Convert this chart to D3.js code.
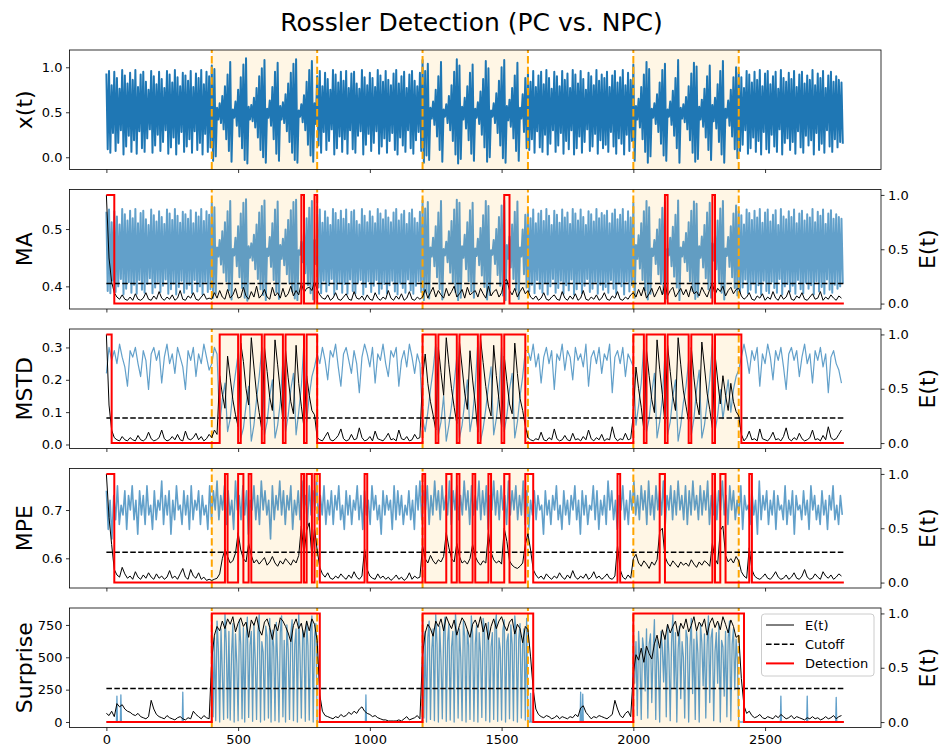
<!DOCTYPE html>
<html><head><meta charset="utf-8">
<script src="https://cdn.jsdelivr.net/npm/d3@7"></script>
<style>body{margin:0;background:#fff} svg text{font-family:"DejaVu Sans",sans-serif;fill:#000}</style>
</head><body><svg id="c" width="943" height="751"></svg>
<script>
// ---------------- DATA ----------------
const tTicks = [0, 500, 1000, 1500, 2000, 2500];
const regions = [[400, 800], [1200, 1600], [2000, 2400]];
const cycleLen = 10;          // x(t) / MA: one peak + one trough per cycle
const eStep = 10;             // E(t) and MSTD sampled every 10 steps
const mpeStep = 7;            // MPE sampled every 7 steps
const surpStep = 5;           // Surprise in anomaly windows every 5 steps
const cutoffs = {ma: 0.185, mstd: 0.23, mpe: 0.28, surprise: 0.31};

const xPeaks = [
.93,.96,.80,.95,.88,.76,.97,.91,.82,.94,.86,.97,.78,.92,.95,.84,.75,.96,.90,.81,.95,.87,.77,.96,.92,.83,.97,.89,.79,.94,.91,.85,.96,.78,.93,.88,.97,.81,.95,.90,
1.02,.98,.55,.60,.68,.79,.92,1.06,.53,.62,.75,.89,1.03,1.10,.56,.58,.66,.77,.90,.99,1.08,.54,.63,.78,.95,1.05,.57,.61,.70,.82,.94,1.04,1.09,.52,.59,.69,.84,.97,1.07,.60,
.90,.96,.79,.94,.87,.75,.97,.92,.83,.95,.85,.96,.77,.93,.95,.82,.76,.97,.89,.80,.94,.88,.78,.97,.91,.84,.96,.86,.80,.93,.97,.82,.90,.95,.77,.92,.96,.85,.79,.94,
1.08,.96,1.04,.55,.62,.75,.90,1.06,.53,.59,.68,.80,.95,1.09,1.02,.56,.66,.79,.94,1.03,.54,.61,.73,.87,1.07,.99,.52,.60,.71,.85,1.00,1.08,.57,.64,.77,.91,1.05,.55,.70,.88,
.93,.84,.96,.78,.91,.95,.81,.97,.88,.76,.95,.90,.79,.96,.86,.93,.77,.97,.92,.82,.96,.87,.75,.94,.90,.80,.97,.85,.92,.88,.95,.78,.91,.96,.83,.89,.97,.80,.94,.86,
1.03,.57,.65,.78,.92,1.06,.98,.54,.60,.70,.83,.97,1.04,.53,.62,.74,.88,1.08,.55,.59,.67,.79,.93,1.05,1.01,.56,.64,.76,.90,1.02,.58,.66,.81,.96,1.07,.54,.63,.75,.89,1.00,
.94,.89,.77,.96,.92,.83,.95,.86,.97,.79,.93,.96,.81,.90,.95,.76,.97,.88,.84,.94,.87,.96,.78,.92,.95,.82,.91,.86,.97,.80,.93,.88,.96,.77,.91,.95,.84,.90,.86,.83];
const xTroughs = [
.09,.05,.27,.07,.16,.30,.03,.12,.24,.06,.19,.04,.29,.10,.06,.21,.31,.05,.13,.25,.07,.17,.30,.04,.11,.22,.03,.15,.28,.06,.12,.20,.05,.29,.08,.16,.03,.26,.06,.11,
-.04,.01,.42,.38,.31,.20,.07,-.05,.44,.35,.23,.10,-.03,-.07,.42,.40,.33,.22,.08,.00,-.06,.44,.35,.20,.04,-.04,.42,.38,.29,.17,.05,-.03,-.06,.45,.39,.30,.14,.02,-.05,.37,
.13,.05,.28,.08,.18,.31,.03,.10,.23,.06,.20,.04,.30,.09,.05,.24,.29,.03,.14,.26,.07,.16,.29,.04,.12,.21,.05,.18,.27,.08,.03,.22,.13,.06,.30,.10,.04,.19,.28,.07,
-.06,.02,-.03,.43,.36,.23,.08,-.05,.45,.38,.30,.18,.03,-.07,-.02,.42,.32,.19,.04,-.04,.44,.37,.25,.11,-.05,.00,.45,.38,.27,.13,-.01,-.06,.41,.34,.21,.07,-.04,.43,.28,.10,
.08,.20,.05,.29,.11,.06,.25,.03,.15,.30,.06,.13,.27,.04,.18,.09,.30,.03,.10,.23,.05,.17,.31,.07,.12,.26,.04,.19,.10,.14,.06,.28,.12,.04,.21,.15,.03,.25,.07,.18,
-.04,.42,.33,.20,.06,-.06,.01,.44,.37,.28,.15,.02,-.04,.45,.36,.24,.10,-.06,.43,.39,.31,.19,.05,-.05,-.02,.42,.34,.22,.08,-.03,.40,.32,.17,.03,-.06,.44,.35,.23,.09,-.01,
.07,.14,.30,.04,.10,.22,.06,.18,.03,.28,.09,.05,.25,.12,.06,.31,.03,.16,.21,.08,.17,.04,.29,.11,.05,.24,.13,.19,.03,.27,.08,.15,.05,.30,.12,.06,.20,.11,.17,.15];

const maPeaks = [
.530,.534,.512,.531,.522,.508,.535,.526,.515,.532,.519,.535,.510,.528,.532,.517,.507,.534,.524,.513,.531,.521,.509,.534,.527,.516,.535,.523,.511,.530,.526,.518,.533,.510,.529,.522,.535,.514,.531,.525,
.546,.538,.468,.481,.496,.512,.531,.549,.465,.485,.505,.527,.546,.552,.470,.475,.490,.508,.529,.540,.550,.466,.486,.510,.534,.548,.472,.483,.499,.516,.533,.547,.551,.463,.478,.497,.519,.537,.549,.481,
.526,.534,.511,.531,.520,.507,.535,.528,.516,.532,.518,.534,.509,.530,.533,.514,.508,.535,.523,.512,.531,.522,.510,.535,.527,.517,.533,.520,.512,.529,.535,.515,.526,.532,.509,.528,.534,.519,.511,.530,
.550,.536,.547,.468,.485,.505,.529,.549,.465,.478,.496,.514,.534,.551,.546,.470,.490,.512,.533,.546,.466,.483,.502,.524,.549,.540,.463,.481,.500,.521,.541,.550,.472,.487,.508,.530,.548,.468,.499,.525,
.530,.519,.534,.510,.527,.532,.514,.535,.523,.507,.532,.525,.511,.534,.520,.529,.509,.535,.527,.515,.534,.521,.507,.531,.526,.513,.535,.519,.528,.524,.532,.510,.527,.534,.517,.525,.535,.513,.531,.520,
.546,.472,.489,.510,.531,.549,.538,.466,.481,.499,.517,.537,.547,.465,.485,.504,.525,.550,.468,.478,.493,.512,.532,.548,.544,.470,.487,.507,.529,.546,.475,.490,.515,.536,.549,.466,.486,.505,.527,.541,
.531,.524,.508,.534,.528,.516,.532,.520,.535,.511,.529,.534,.513,.525,.533,.507,.535,.522,.517,.531,.521,.534,.510,.527,.532,.515,.526,.520,.535,.512,.530,.523,.534,.509,.527,.533,.518,.526,.521,.518];
const maTroughs = [
.392,.388,.410,.390,.400,.413,.386,.396,.407,.389,.403,.387,.411,.394,.389,.404,.414,.388,.398,.408,.390,.401,.412,.387,.395,.405,.386,.399,.410,.389,.396,.403,.388,.411,.391,.400,.386,.408,.390,.395,
.380,.387,.452,.438,.424,.409,.393,.377,.454,.435,.416,.397,.380,.375,.450,.445,.430,.413,.395,.385,.376,.453,.434,.411,.390,.378,.448,.437,.421,.405,.391,.379,.376,.455,.442,.423,.402,.388,.377,.439,
.398,.388,.410,.391,.402,.413,.386,.395,.406,.389,.404,.387,.412,.392,.388,.407,.411,.386,.399,.409,.390,.401,.411,.387,.396,.404,.388,.402,.410,.391,.386,.405,.397,.389,.412,.393,.387,.401,.409,.390,
.376,.389,.379,.452,.435,.416,.395,.377,.454,.442,.424,.407,.390,.376,.380,.450,.430,.409,.391,.380,.453,.437,.419,.399,.377,.385,.455,.439,.420,.401,.384,.376,.448,.433,.413,.394,.378,.452,.421,.398,
.391,.403,.388,.411,.396,.389,.406,.386,.400,.413,.389,.397,.410,.387,.402,.393,.412,.386,.395,.407,.388,.401,.413,.390,.396,.408,.387,.403,.394,.399,.389,.411,.396,.387,.405,.400,.386,.409,.391,.402,
.380,.448,.431,.411,.393,.377,.387,.453,.439,.421,.404,.388,.379,.454,.435,.417,.398,.376,.452,.442,.427,.409,.392,.378,.382,.450,.433,.414,.395,.380,.445,.430,.406,.389,.377,.453,.434,.416,.397,.384,
.390,.398,.412,.388,.394,.405,.389,.402,.386,.410,.392,.388,.408,.397,.389,.413,.386,.400,.404,.391,.401,.387,.411,.395,.388,.406,.396,.402,.386,.409,.391,.399,.387,.412,.394,.389,.403,.396,.400,.405];

const mstdValues = [.22,.30,.26,.29,.25,.31,.27,.24,.18,.29,.27,.30,.25,.21,.29,.26,.17,.28,.30,.26,.29,.19,.27,.31,.25,.28,.22,.30,.27,.24,.17,.29,.26,.30,.21,.28,.25,.31,.27,.23,
.25,.30,.28,.06,.14,.19,.04,.08,.16,.22,.28,.02,.05,.12,.18,.01,.06,.14,.21,.30,.03,.07,.15,.20,.02,.06,.13,.26,.04,.09,.17,.22,.03,.10,.18,.32,.07,.15,.21,.24,
.28,.25,.30,.26,.20,.29,.27,.31,.24,.18,.28,.30,.26,.22,.29,.25,.16,.27,.31,.28,.24,.30,.19,.28,.26,.31,.25,.21,.29,.27,.30,.18,.26,.29,.24,.31,.27,.22,.28,.25,
.08,.04,.10,.17,.23,.31,.03,.07,.15,.01,.06,.12,.19,.27,.02,.06,.13,.20,.04,.09,.18,.32,.01,.05,.11,.18,.24,.03,.08,.16,.30,.04,.09,.17,.22,.02,.07,.15,.21,.29,
.29,.26,.31,.24,.28,.19,.27,.30,.25,.29,.17,.28,.26,.31,.23,.29,.27,.20,.30,.26,.28,.24,.31,.18,.27,.29,.25,.30,.22,.28,.26,.31,.16,.27,.29,.25,.30,.21,.28,.26,
.24,.06,.12,.19,.31,.04,.08,.16,.22,.02,.07,.14,.28,.03,.07,.15,.20,.01,.06,.13,.18,.26,.03,.08,.17,.23,.02,.06,.13,.20,.31,.04,.09,.17,.08,.14,.20,.10,.17,.21,
.23,.27,.31,.27,.22,.29,.26,.30,.18,.28,.25,.31,.27,.20,.29,.26,.30,.24,.17,.28,.30,.26,.29,.21,.27,.31,.25,.28,.19,.29,.26,.30,.24,.28,.16,.27,.29,.25,.23,.19];

const mpeValues = [.74,.66,.72,.64,.73,.68,.75,.67,.71,.69,.74,.66,.73,.70,.75,.68,.72,.65,.74,.69,
.73,.67,.75,.69,.71,.66,.74,.68,.72,.70,.76,.67,.73,.69,.74,.65,.72,.68,.75,.70,
.71,.67,.74,.69,.73,.66,.75,.68,.72,.70,.74,.67,.73,.69,.71,.66,.75,.68,.74,.70,
.76,.68,.73,.70,.75,.67,.74,.69,.72,.66,.76,.70,.73,.68,.75,.69,.74,.65,.72,.70,
.75,.68,.73,.67,.76,.70,.74,.69,.72,.64,.75,.68,.73,.70,.76,.69,.74,.67,.73,.70,
.75,.66,.72,.69,.74,.68,.76,.70,.73,.67,.75,.69,.74,.70,.76,.68,.73,.69,.75,.67,
.72,.69,.74,.67,.73,.70,.75,.68,.71,.66,.74,.69,.73,.67,.72,.70,.75,.68,.73,.66,
.74,.69,.72,.67,.75,.70,.73,.68,.71,.65,.74,.69,.73,.70,.72,.66,.75,.68,.74,.69,
.73,.67,.71,.69,.74,.68,.72,.66,.75,.70,.76,.68,.74,.70,.75,.67,.73,.69,.76,.70,
.74,.68,.75,.70,.73,.69,.76,.67,.74,.70,.75,.68,.73,.69,.76,.70,.74,.67,.75,.69,
.73,.70,.76,.68,.74,.69,.75,.66,.73,.70,.76,.69,.74,.68,.75,.70,.73,.67,.76,.69,
.74,.70,.75,.68,.73,.69,.76,.67,.74,.66,.72,.69,.74,.68,.73,.70,.71,.65,.74,.69,
.72,.67,.73,.70,.75,.68,.71,.66,.74,.69,.72,.67,.73,.70,.75,.68,.72,.65,.74,.69,
.73,.67,.71,.70,.75,.68,.74,.66,.72,.69,.73,.67,.76,.70,.74,.68,.72,.66,.73,.70,
.75,.68,.72,.67,.74,.70,.76,.69,.73,.68,.75,.70,.74,.67,.76,.69,.73,.68,.75,.70,
.74,.69,.76,.67,.73,.70,.75,.68,.74,.69,.76,.70,.73,.68,.75,.67,.74,.69,.76,.70,
.73,.68,.75,.69,.74,.70,.76,.67,.73,.69,.75,.68,.74,.70,.76,.69,.73,.67,.75,.70,
.74,.68,.72,.69,.75,.66,.73,.70,.71,.67,.74,.69,.72,.65,.76,.68,.73,.70,.74,.67,
.72,.69,.74,.66,.73,.70,.71,.68,.75,.67,.72,.69,.74,.65,.73,.70,.71,.68,.74,.69,
.72,.66,.75,.70,.73,.68,.71,.67,.74,.69,.72,.66,.73,.70,.75,.68,.71,.67,.73,.69];

const surpriseWin1 = [820,40,650,10,780,560,0,720,380,20,840,610,30,700,15,520,760,0,680,450,
10,790,600,25,730,0,640,810,35,590,700,5,760,480,20,690,830,0,620,540,
15,740,660,30,800,0,710,580,10,770,450,0,690,820,40,630,0,750,560,20,
680,790,10,600,720,0,840,520,30,710,640,5,780,590,15,700,820,0,660,760];
const surpriseWin2 = [800,30,700,0,650,780,20,560,720,10,830,600,0,740,480,25,690,810,5,620,
760,15,580,700,0,840,640,30,720,500,10,780,660,0,710,590,20,820,680,5,
600,750,0,690,540,35,800,720,10,630,770,0,580,690,20,740,830,5,650,560,
15,710,790,0,620,680,25,750,600,10,820,700,0,640,760,30,590,720,15,800];
const surpriseWin3 = [760,300,620,50,700,480,20,650,560,240,720,30,600,680,150,540,790,20,640,460,
0,700,580,310,670,40,750,520,10,610,830,260,690,0,560,740,180,620,500,30,
710,650,0,580,800,220,640,20,700,530,0,760,610,280,680,30,590,820,150,650,
720,10,540,690,300,760,0,630,580,200,700,40,650,780,10,600,720,250,640,480];
const surpriseSpikes = [[40,200],[55,210],[290,230],[985,210],[1610,220],[1800,230],[1808,215],[2420,150],[2560,200],[2660,200],[2770,190]];

const eMA = [1.0,.42,.20,.10,.06,.04,.08,.04,.03,.06,.03,.09,.04,.03,.05,.10,.04,.03,.07,.04,.11,.05,.03,.06,.04,.08,.03,.05,.12,.04,.03,.07,.05,.10,.04,.03,.06,.09,.04,.05,
.04,.10,.05,.12,.06,.04,.13,.05,.08,.14,.05,.06,.15,.07,.04,.11,.06,.16,.05,.08,.13,.06,.04,.15,.07,.10,.05,.14,.06,.09,.16,.07,.12,.08,.19,.10,.14,.15,.12,.20,
.13,.08,.05,.04,.08,.03,.05,.10,.04,.03,.06,.09,.04,.03,.11,.05,.04,.07,.03,.08,.04,.03,.10,.05,.03,.06,.04,.12,.05,.03,.07,.04,.09,.03,.05,.11,.04,.03,.06,.04,
.06,.13,.05,.10,.15,.06,.12,.08,.05,.14,.07,.11,.16,.06,.09,.13,.05,.15,.08,.10,.12,.06,.14,.09,.05,.16,.07,.11,.13,.06,.10,.21,.22,.12,.08,.14,.06,.11,.15,.09,
.12,.06,.04,.07,.03,.05,.10,.04,.03,.06,.08,.04,.03,.11,.05,.03,.07,.04,.09,.03,.05,.12,.04,.03,.06,.04,.08,.03,.05,.10,.04,.03,.07,.05,.11,.04,.03,.06,.04,.08,
.10,.06,.13,.07,.15,.05,.09,.14,.06,.11,.16,.08,.19,.07,.12,.15,.06,.10,.14,.08,.13,.06,.16,.09,.11,.07,.15,.10,.06,.13,.19,.08,.14,.11,.16,.07,.12,.15,.09,.13,
.14,.07,.04,.06,.10,.04,.03,.07,.05,.09,.03,.06,.04,.11,.05,.03,.08,.04,.06,.12,.04,.03,.07,.05,.10,.04,.03,.06,.09,.04,.05,.11,.03,.06,.04,.08,.05,.03,.07,.05];

const eMSTD = [1.0,.35,.12,.05,.03,.02,.06,.03,.02,.05,.03,.02,.07,.03,.02,.04,.10,.04,.02,.03,.05,.12,.04,.02,.03,.06,.03,.08,.03,.02,.11,.04,.03,.05,.09,.03,.06,.02,.04,.08,
.05,.12,.08,.62,.45,.32,.80,.60,.40,.26,.15,.92,.75,.50,.35,.97,.70,.45,.28,.12,.88,.66,.42,.30,.95,.72,.48,.20,.85,.60,.38,.27,.90,.55,.34,.14,.62,.44,.30,.26,
.05,.03,.02,.06,.10,.03,.02,.04,.07,.13,.04,.02,.03,.08,.03,.04,.14,.05,.02,.03,.06,.02,.11,.04,.03,.02,.05,.09,.03,.04,.02,.12,.04,.03,.06,.02,.03,.08,.04,.05,
.60,.82,.55,.38,.26,.12,.88,.65,.44,.97,.72,.50,.33,.18,.93,.70,.46,.31,.85,.58,.36,.10,.96,.74,.52,.34,.25,.90,.62,.40,.15,.80,.57,.36,.27,.92,.64,.41,.30,.16,
.05,.03,.02,.04,.03,.10,.03,.02,.05,.03,.13,.04,.02,.03,.07,.03,.02,.09,.03,.04,.02,.06,.03,.12,.04,.02,.05,.03,.08,.02,.04,.03,.15,.05,.02,.04,.03,.09,.03,.04,
.26,.70,.50,.33,.12,.85,.62,.40,.28,.95,.68,.45,.18,.90,.66,.43,.30,.97,.72,.48,.34,.20,.88,.60,.38,.26,.93,.70,.46,.31,.14,.82,.58,.36,.62,.44,.30,.55,.38,.29,
.25,.08,.02,.05,.11,.03,.04,.02,.13,.04,.03,.02,.05,.10,.03,.04,.02,.06,.14,.04,.02,.05,.03,.09,.04,.02,.03,.05,.12,.03,.04,.02,.07,.03,.15,.05,.03,.04,.08,.12];

const eMPE = [1.0,.60,.35,.12,.07,.05,.14,.08,.04,.06,.03,.10,.05,.03,.07,.04,.09,.05,.03,.08,.04,.06,.03,.05,.11,.04,.06,.03,.08,.13,.05,.03,.12,.06,.04,.09,.03,.05,.02,.03,
.02,.03,.04,.08,.22,.31,.24,.18,.20,.27,.46,.30,.22,.19,.36,.25,.18,.21,.17,.20,.23,.16,.19,.24,.18,.15,.20,.17,.22,.19,.16,.21,.18,.25,.52,.26,.48,.55,.24,.50,
.30,.14,.08,.05,.09,.04,.03,.06,.04,.08,.05,.03,.07,.04,.10,.05,.03,.06,.31,.12,.06,.04,.03,.08,.04,.06,.03,.05,.02,.04,.07,.03,.05,.02,.04,.09,.03,.06,.04,.05,
.34,.22,.18,.25,.20,.17,.21,.19,.24,.46,.32,.22,.19,.36,.24,.18,.20,.17,.22,.35,.24,.19,.16,.20,.18,.46,.28,.21,.18,.20,.17,.50,.38,.20,.16,.14,.13,.15,.18,.35,
.45,.30,.12,.07,.04,.06,.03,.08,.05,.03,.06,.04,.09,.05,.03,.07,.04,.11,.05,.03,.06,.04,.08,.03,.05,.10,.04,.06,.03,.05,.08,.04,.03,.06,.34,.12,.05,.03,.07,.04,
.22,.26,.18,.15,.20,.17,.13,.19,.16,.21,.47,.50,.24,.18,.15,.20,.17,.14,.19,.16,.18,.15,.21,.17,.14,.19,.16,.20,.18,.15,.36,.22,.17,.48,.52,.25,.19,.22,.18,.24,
.20,.10,.06,.04,.32,.12,.06,.04,.03,.05,.08,.04,.03,.06,.10,.05,.03,.04,.07,.03,.05,.09,.04,.03,.06,.12,.05,.03,.04,.08,.05,.03,.10,.06,.04,.07,.03,.05,.08,.06];

const eSurprise = [.08,.06,.10,.05,.17,.14,.16,.12,.10,.09,.07,.06,.08,.05,.04,.03,.05,.20,.12,.07,.05,.04,.03,.06,.04,.03,.02,.04,.05,.03,.02,.04,.03,.10,.07,.05,.03,.06,.04,.03,
.58,.80,.88,.84,.93,.86,.95,.90,.97,.83,.91,.96,.88,.92,.78,.94,.89,.97,.85,.80,.92,.95,.87,.76,.90,.84,.96,.93,.88,.82,.74,.89,.95,.86,.91,.78,.93,.84,.95,.90,
.75,.25,.10,.06,.05,.04,.03,.05,.04,.07,.05,.06,.09,.07,.10,.08,.12,.14,.10,.08,.07,.05,.06,.04,.03,.02,.02,.01,.01,.01,.01,.02,.01,.03,.05,.02,.03,.04,.06,.03,
.62,.82,.90,.86,.79,.93,.88,.95,.84,.97,.91,.86,.94,.80,.89,.96,.92,.85,.78,.90,.94,.87,.97,.83,.91,.76,.88,.95,.86,.93,.97,.89,.84,.92,.95,.81,.90,.86,.73,.88,
.85,.60,.30,.12,.07,.05,.04,.06,.05,.03,.04,.06,.03,.05,.04,.03,.05,.04,.07,.05,.13,.15,.09,.06,.03,.05,.04,.06,.05,.04,.03,.05,.07,.20,.12,.06,.04,.08,.10,.05,
.45,.62,.57,.68,.55,.70,.63,.58,.72,.80,.68,.85,.76,.90,.82,.88,.93,.79,.91,.86,.95,.83,.89,.97,.84,.92,.88,.95,.80,.91,.96,.87,.93,.85,.97,.90,.82,.94,.88,.78,
.80,.40,.15,.08,.10,.06,.04,.05,.07,.04,.03,.05,.04,.03,.06,.04,.07,.05,.03,.04,.06,.03,.05,.04,.03,.02,.04,.03,.05,.03,.04,.02,.03,.05,.03,.04,.06,.03,.05,.06];

// ---------------- BUILD SERIES ----------------
const tEnd = 2799;
function zigzag(peaks, troughs){
  const pts=[];
  peaks.forEach((p,i)=>{ pts.push([i*cycleLen, p]); pts.push([i*cycleLen+cycleLen/2, troughs[i]]); });
  return pts;
}
const xSeries = zigzag(xPeaks, xTroughs);
const maSeries = zigzag(maPeaks, maTroughs);
const mstdSeries = mstdValues.map((v,k)=>[k*eStep, v]);
const mpeSeries = mpeValues.map((v,k)=>[k*mpeStep, v]);
function surpriseSeries(){
  let pts=[[0,0],[tEnd,0]];
  surpriseSpikes.forEach(([t,v])=>{pts.push([t-2,0],[t,v],[t+2,0]);});
  [surpriseWin1,surpriseWin2,surpriseWin3].forEach((w,r)=>{
    const s=regions[r][0];
    pts.push([s-1,0]);
    w.forEach((v,j)=>pts.push([s+j*surpStep,v]));
    pts.push([s+w.length*surpStep,0]);
  });
  pts.sort((a,b)=>a[0]-b[0]);
  return pts;
}
const surpSeries = surpriseSeries();
const eSeries = arr => arr.map((v,k)=>[k*eStep, v]);
function detection(arr, cut){
  const pts = arr.map((v,k)=>[k*eStep, v>cut?1:0]);
  pts.push([tEnd, pts[pts.length-1][1]]);
  return pts;
}

// ---------------- LAYOUT ----------------
const svg = d3.select("#c");
const X = d3.scaleLinear().domain([-140, 2940]).range([69.5, 881]);
const PH = 119.5;
const panels = [
  {top:50,    dom:[-0.136,1.192], ticks:[0,0.5,1.0],       fmt:".1f", label:"x(t)",     series:xSeries,   op:1,  lw:2},
  {top:189.5, dom:[0.3605,0.569], ticks:[0.4,0.5],         fmt:".1f", label:"MA",       series:maSeries,  op:.7, lw:2, E:eMA, cut:cutoffs.ma},
  {top:329,   dom:[-0.0124,0.357],ticks:[0,0.1,0.2,0.3],   fmt:".1f", label:"MSTD",     series:mstdSeries,op:.7, lw:1.2, E:eMSTD, cut:cutoffs.mstd},
  {top:468.5, dom:[0.5385,0.786], ticks:[0.6,0.7],         fmt:".1f", label:"MPE",      series:mpeSeries, op:.7, lw:1.6, E:eMPE, cut:cutoffs.mpe},
  {top:608,   dom:[-42.6,881],    ticks:[0,250,500,750],   fmt:"d",   label:"Surprise", series:surpSeries,op:.7, lw:1.3, E:eSurprise, cut:cutoffs.surprise}
];

svg.append("text").attr("x",471.5).attr("y",31).attr("text-anchor","middle")
  .style("font-size","25px").text("Rossler Detection (PC vs. NPC)");

panels.forEach((p,i)=>{
  const y0=p.top, y1=p.top+PH;
  const Y = d3.scaleLinear().domain(p.dom).range([y1,y0]);
  const YE = d3.scaleLinear().domain([-0.05,1.05]).range([y1,y0]);
  const g = svg.append("g");
  const cid="clip"+i;
  svg.append("clipPath").attr("id",cid).append("rect")
    .attr("x",X.range()[0]).attr("y",y0).attr("width",X.range()[1]-X.range()[0]).attr("height",PH);
  const data = g.append("g").attr("clip-path",`url(#${cid})`);
  regions.forEach(([a,b])=>{
    data.append("rect").attr("x",X(a)).attr("y",y0).attr("width",X(b)-X(a)).attr("height",PH)
      .attr("fill","#FFA500").attr("fill-opacity",0.1);
  });
  data.append("path").datum(p.series)
    .attr("d", d3.line().x(d=>X(d[0])).y(d=>Y(d[1])))
    .attr("fill","none").attr("stroke","#1f77b4").attr("stroke-opacity",p.op)
    .attr("stroke-width",p.lw).attr("stroke-linejoin","round");
  regions.flat().forEach(t=>{
    data.append("line").attr("x1",X(t)).attr("x2",X(t)).attr("y1",y1).attr("y2",y0)
      .attr("stroke","#FFA500").attr("stroke-width",2).attr("stroke-dasharray","7.4,3.2");
  });
  if(p.E){
    data.append("path").datum(eSeries(p.E))
      .attr("d", d3.line().x(d=>X(d[0])).y(d=>YE(d[1])))
      .attr("fill","none").attr("stroke","#000").attr("stroke-width",1);
    data.append("line").attr("x1",X(0)).attr("x2",X(tEnd)).attr("y1",YE(p.cut)).attr("y2",YE(p.cut))
      .attr("stroke","#000").attr("stroke-width",1.5).attr("stroke-dasharray","5.55,2.4");
    data.append("path").datum(detection(p.E,p.cut))
      .attr("d", d3.line().curve(d3.curveStepAfter).x(d=>X(d[0])).y(d=>YE(d[1])))
      .attr("fill","none").attr("stroke","#ff0000").attr("stroke-width",2);
  }
  g.append("rect").attr("x",X.range()[0]).attr("y",y0).attr("width",X.range()[1]-X.range()[0]).attr("height",PH)
    .attr("fill","none").attr("stroke","#000").attr("stroke-width",0.8);
  const styleAxis = sel=>{
    sel.attr("font-family","DejaVu Sans").attr("font-size",13);
    sel.select(".domain").remove();
    sel.selectAll(".tick line").attr("stroke","#000").attr("stroke-width",0.8);
    sel.selectAll(".tick text").attr("fill","#000");
  };
  g.append("g").attr("transform",`translate(${X.range()[0]},0)`)
    .call(d3.axisLeft(Y).tickValues(p.ticks).tickFormat(d3.format(p.fmt)).tickSize(3.5).tickPadding(3.5)).call(styleAxis);
  g.append("g").attr("transform",`translate(0,${y1})`)
    .call(d3.axisBottom(X).tickValues(tTicks).tickFormat(i===4?d3.format("d"):()=> "").tickSize(3.5).tickPadding(3.5)).call(styleAxis);
  svg.append("text").attr("transform",`translate(24,${y0+PH/2}) rotate(-90)`)
    .attr("text-anchor","middle").attr("dominant-baseline","central").style("font-size","22px").text(p.label);
  if(p.E){
    g.append("g").attr("transform",`translate(${X.range()[1]},0)`)
      .call(d3.axisRight(YE).tickValues([0,0.5,1.0]).tickFormat(d3.format(".1f")).tickSize(3.5).tickPadding(3.5)).call(styleAxis);
    svg.append("text").attr("transform",`translate(927,${y0+PH/2}) rotate(-90)`)
      .attr("text-anchor","middle").attr("dominant-baseline","central").style("font-size","22px").text("E(t)");
  }
  if(i===4){
    const lg = svg.append("g");
    lg.append("rect").attr("x",761.5).attr("y",614).attr("width",112.5).attr("height",62).attr("rx",3)
      .attr("fill","#fff").attr("fill-opacity",0.8).attr("stroke","#cccccc").attr("stroke-width",1);
    const items=[{t:"E(t)",c:"#000",w:1,d:null},{t:"Cutoff",c:"#000",w:1.5,d:"5.55,2.4"},{t:"Detection",c:"#ff0000",w:2,d:null}];
    items.forEach((it,j)=>{
      const yy=625+j*19.2;
      const ln=lg.append("line").attr("x1",766).attr("x2",794).attr("y1",yy).attr("y2",yy)
        .attr("stroke",it.c).attr("stroke-width",it.w);
      if(it.d) ln.attr("stroke-dasharray",it.d);
      lg.append("text").attr("x",805).attr("y",yy).attr("dominant-baseline","central").style("font-size","13px").text(it.t);
    });
  }
});
</script></body></html>
